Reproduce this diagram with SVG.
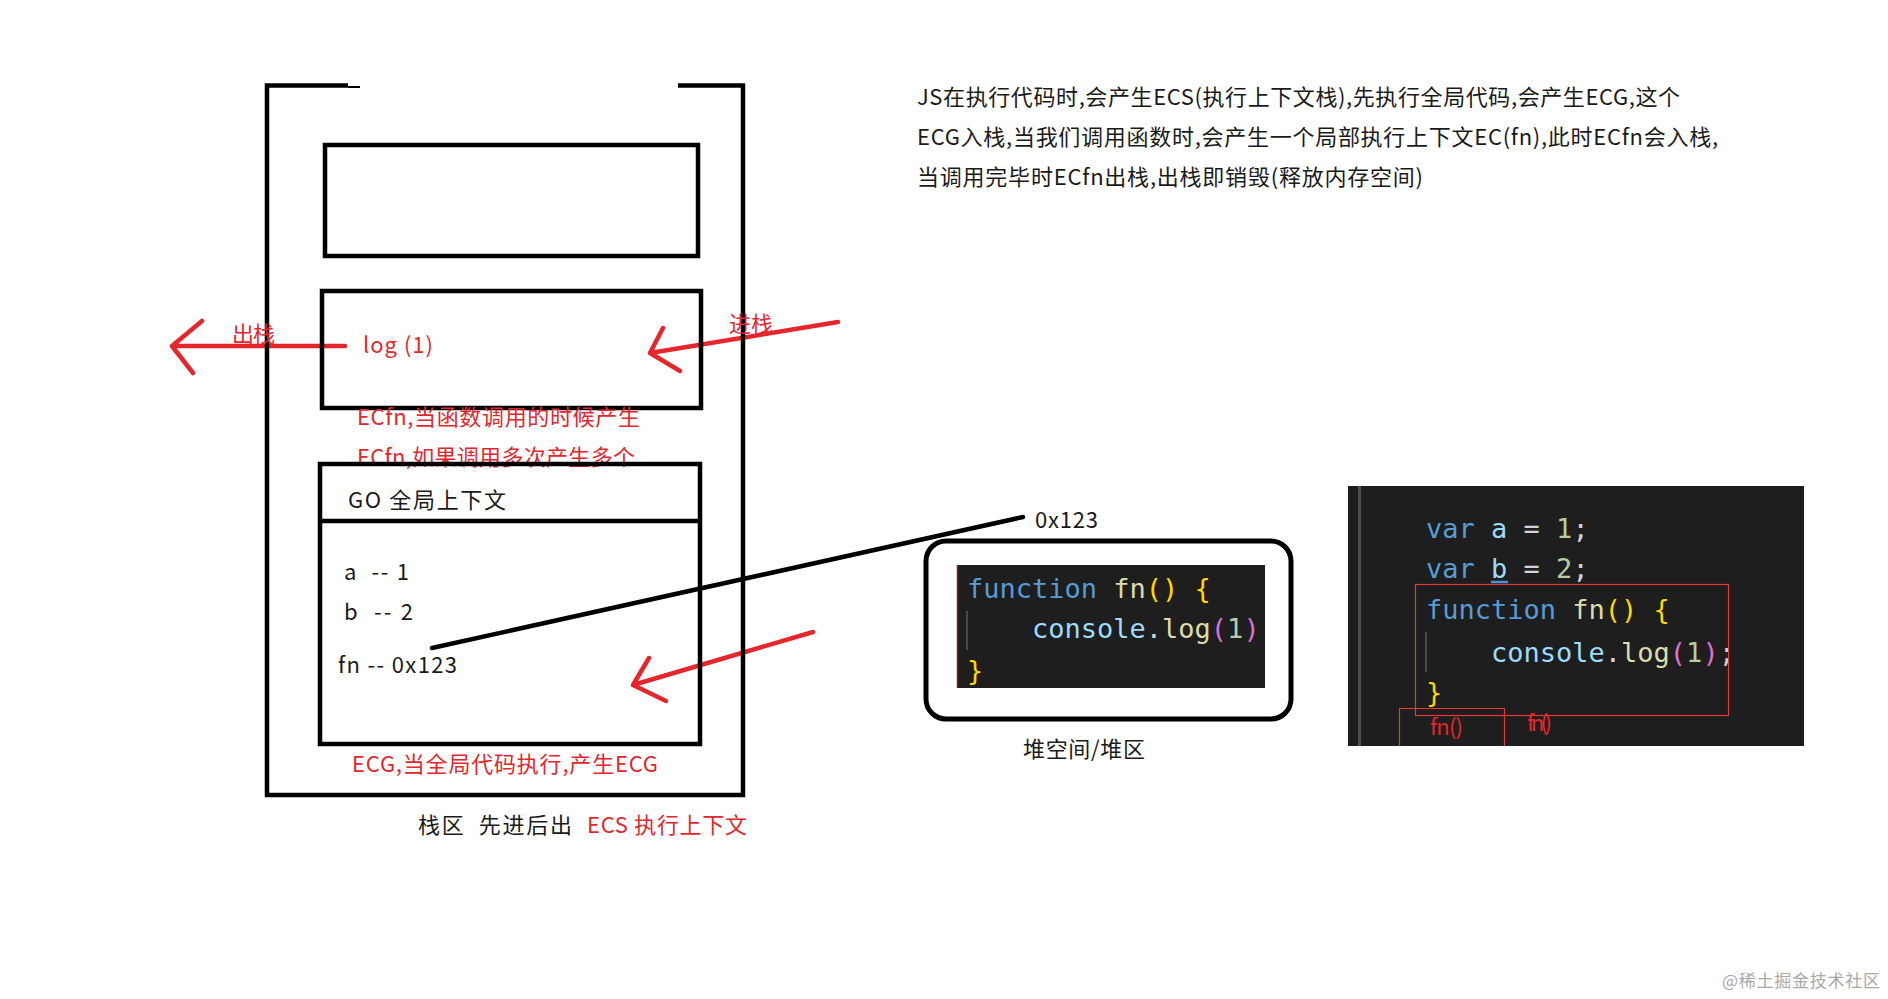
<svg xmlns="http://www.w3.org/2000/svg" width="1888" height="999" viewBox="0 0 1888 999">
  <style>
    .t { font-family: 'Noto Sans CJK SC', 'Noto Sans', sans-serif; font-size: 22px; fill: #1a1a1a; }
    .r { fill: #e5262d; }
    .box { fill: none; stroke: #000; stroke-width: 4.5; }
    .arrow { fill: none; stroke: #e5262d; stroke-width: 4.5; stroke-linecap: round; stroke-linejoin: round; }
    .code { font-family: 'DejaVu Sans Mono', 'Liberation Mono', monospace; font-size: 27px; }
    .kw { fill: #569cd6; }
    .fnn { fill: #dcdcaa; }
    .br { fill: #ffd700; }
    .br2 { fill: #da70d6; }
    .var { fill: #9cdcfe; }
    .num { fill: #b5cea8; }
    .pl { fill: #d4d4d4; }
    .guide { stroke: #5a5a5a; stroke-width: 1.5; }
  </style>
  <rect width="1888" height="999" fill="#ffffff"/>

  <g id="connectors">
    <path class="arrow" d="M345 346 L172 346 M202 321 L172 346 L193 373"/>
    <path class="arrow" d="M838 322 L650 353 M663 328 L650 353 L680 371"/>
    <path class="arrow" d="M813 632 L633 685 M649 658 L633 685 L666 701"/>
    <line x1="432" y1="648" x2="1023" y2="517" stroke="#000" stroke-width="4.5" stroke-linecap="round"/>
  </g>

  <g id="stack">
    <path class="box" d="M348 85.5 L267 85.5 L267 795 L743 795 L743 85.5 L678 85.5"/>
    <line x1="348" y1="87" x2="360" y2="87" stroke="#000" stroke-width="2"/>
    <text class="t" x="418" y="833" textLength="154" xml:space="preserve">栈区  先进后出</text>
    <text class="t r" x="587" y="833" textLength="160">ECS 执行上下文</text>
  </g>

  <g id="box-top">
    <rect class="box" x="325" y="145" width="373" height="111"/>
  </g>

  <g id="box-ecfn">
    <rect class="box" x="322" y="291" width="379" height="117"/>
    <text class="t r" x="363" y="353" textLength="70">log (1)</text>
    <text class="t r" x="357" y="425" font-size="23" textLength="283">ECfn,当函数调用的时候产生</text>
    <text class="t r" x="357" y="465" font-size="23" textLength="278">ECfn,如果调用多次产生多个</text>
  </g>

  <g id="label-out">
    <text class="t r" x="232" y="342" textLength="43">出栈</text>
  </g>
  <g id="label-in">
    <text class="t r" x="729" y="332" textLength="44">进栈</text>
  </g>

  <g id="box-go">
    <rect class="box" x="320" y="464" width="380" height="280"/>
    <line x1="320" y1="521" x2="700" y2="521" stroke="#000" stroke-width="4.5"/>
    <text class="t" x="348" y="508" textLength="158">GO 全局上下文</text>
    <text class="t" x="344" y="580" textLength="65" xml:space="preserve">a  -- 1</text>
    <text class="t" x="344" y="620" textLength="69" xml:space="preserve">b  -- 2</text>
    <text class="t" x="338" y="673" textLength="119">fn -- 0x123</text>
    <text class="t r" x="352" y="772" textLength="306">ECG,当全局代码执行,产生ECG</text>
  </g>

  <g id="heap">
    <rect x="926" y="541" width="365" height="178" rx="20" ry="20" fill="none" stroke="#000" stroke-width="5"/>
    <rect x="957" y="565" width="308" height="123" fill="#1e1e1e"/>
    <line x1="957.5" y1="565" x2="957.5" y2="688" stroke="#8b1c1c" stroke-width="1.5"/>
    <line class="guide" x1="967" y1="611" x2="967" y2="650"/>
    <text class="code" x="967" y="598" xml:space="preserve"><tspan class="kw">function</tspan> <tspan class="fnn">fn</tspan><tspan class="br">()</tspan> <tspan class="br">{</tspan></text>
    <text class="code" x="1032" y="638" xml:space="preserve"><tspan class="var">console</tspan><tspan class="pl">.</tspan><tspan class="fnn">log</tspan><tspan class="br2">(</tspan><tspan class="num">1</tspan><tspan class="br2">)</tspan></text>
    <text class="code br" x="967" y="680">}</text>
    <text class="t" x="1035" y="528" textLength="63">0x123</text>
    <text class="t" x="1023" y="757" textLength="122">堆空间/堆区</text>
  </g>

  <g id="code-panel">
    <rect x="1348" y="486" width="456" height="260" fill="#1e1e1e"/>
    <rect x="1358" y="486" width="3" height="260" fill="#4e4e4e"/>
    <line class="guide" x1="1426" y1="632" x2="1426" y2="672"/>
    <text class="code" x="1426" y="538" xml:space="preserve"><tspan class="kw">var</tspan> <tspan class="var">a</tspan> <tspan class="pl">=</tspan> <tspan class="num">1</tspan><tspan class="pl">;</tspan></text>
    <text class="code" x="1426" y="578" xml:space="preserve"><tspan class="kw">var</tspan> <tspan class="var">b</tspan> <tspan class="pl">=</tspan> <tspan class="num">2</tspan><tspan class="pl">;</tspan></text>
    <line x1="1491" y1="582" x2="1508" y2="582" stroke="#4a8fd6" stroke-width="2.5"/>
    <text class="code" x="1426" y="619" xml:space="preserve"><tspan class="kw">function</tspan> <tspan class="fnn">fn</tspan><tspan class="br">()</tspan> <tspan class="br">{</tspan></text>
    <text class="code" x="1491" y="662" xml:space="preserve"><tspan class="var">console</tspan><tspan class="pl">.</tspan><tspan class="fnn">log</tspan><tspan class="br2">(</tspan><tspan class="num">1</tspan><tspan class="br2">)</tspan><tspan class="pl">;</tspan></text>
    <text class="code br" x="1426" y="702">}</text>
    <rect x="1415.5" y="584.5" width="313" height="131" fill="none" stroke="#e03a3a" stroke-width="1.2"/>
    <path d="M1399.5 746 L1399.5 708.5 L1504.5 708.5 L1504.5 746" fill="none" stroke="#e03a3a" stroke-width="1.2"/>
    <text class="t r" x="1430" y="735" font-size="20" textLength="33">fn()</text>
    <text class="t r" x="1527" y="731" font-size="15" textLength="25">fn()</text>
  </g>

  <g id="description">
    <text class="t" x="917" y="105" textLength="763">JS在执行代码时,会产生ECS(执行上下文栈),先执行全局代码,会产生ECG,这个</text>
    <text class="t" x="917" y="145" textLength="801">ECG入栈,当我们调用函数时,会产生一个局部执行上下文EC(fn),此时ECfn会入栈,</text>
    <text class="t" x="917" y="185" textLength="506">当调用完毕时ECfn出栈,出栈即销毁(释放内存空间)</text>
  </g>

  <g id="watermark">
    <text x="1722" y="987" font-family="'Noto Sans CJK SC', sans-serif" font-size="17" fill="#a8a8a8" textLength="158">@稀土掘金技术社区</text>
  </g>
</svg>
